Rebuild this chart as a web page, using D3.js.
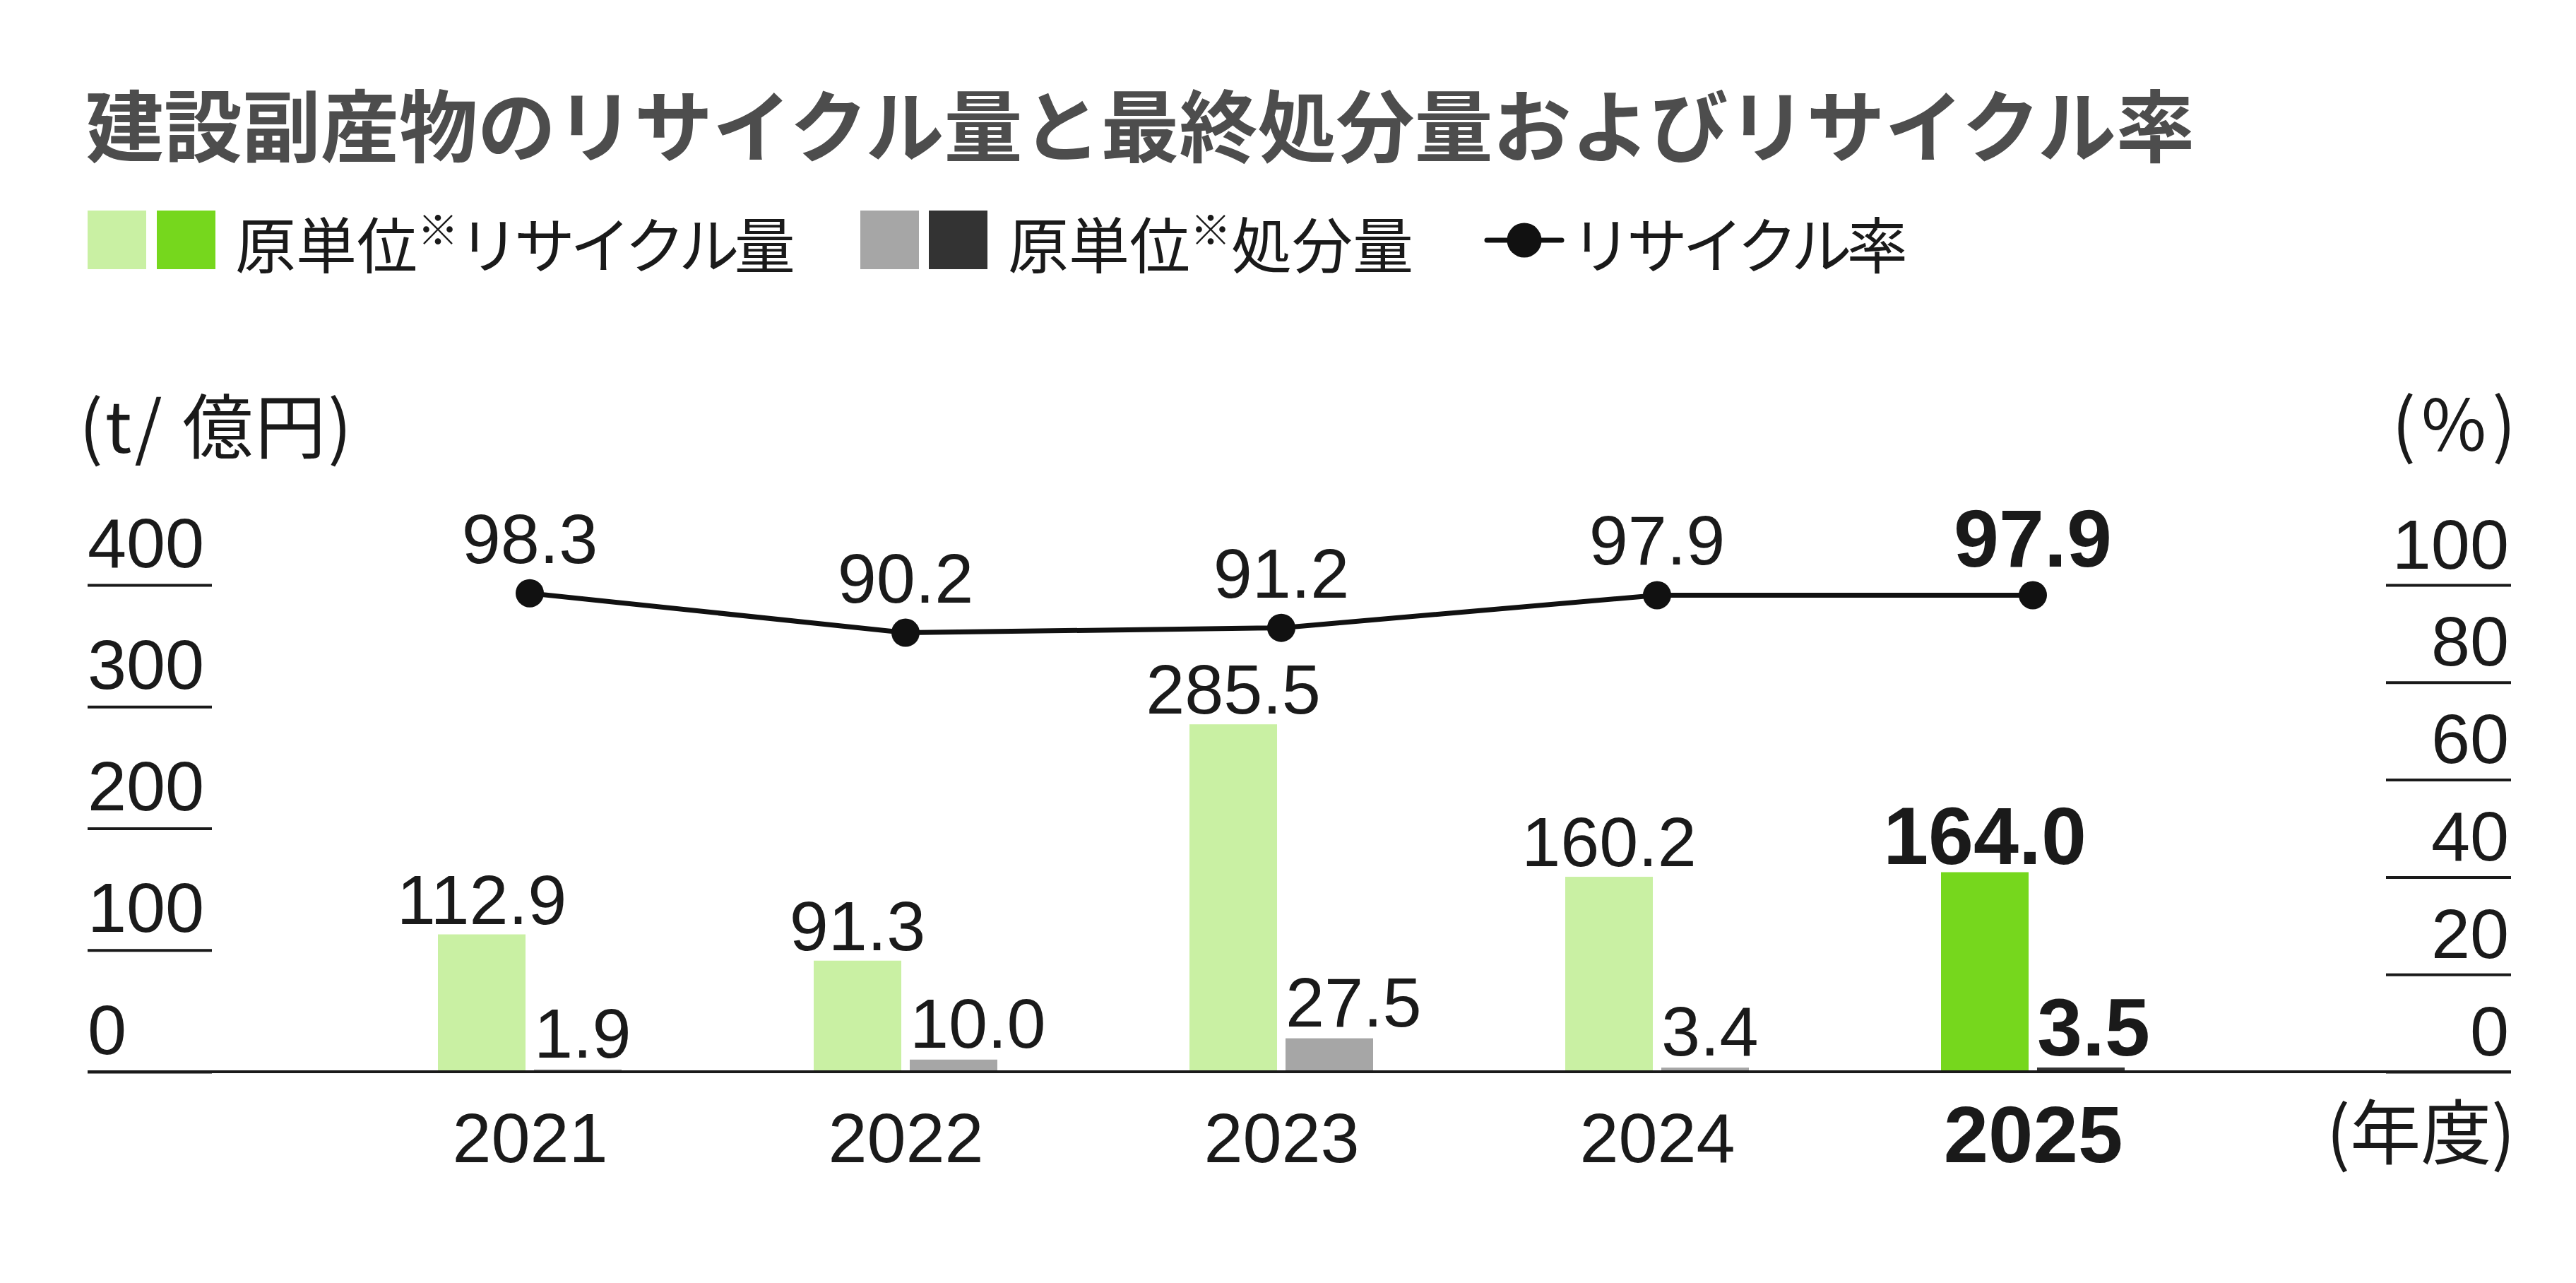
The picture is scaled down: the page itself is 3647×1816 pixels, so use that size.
<!DOCTYPE html>
<html>
<head>
    <meta charset="utf-8">
    <title>建設副産物のリサイクル量と最終処分量およびリサイクル率</title>
    <script src="https://d3js.org/d3.v7.min.js"></script>
    <style>
        body { margin: 0; background: #fff; }
        text { fill: #1a1a1a; }
    </style>
</head>

<body>
<div id="chart"></div>
<script type="text/javascript">

    // data
    let years = ["2021", "2022", "2023", "2024", "2025"];
    let recycleAmount = [112.9, 91.3, 285.5, 160.2, 164.0];
    let disposalAmount = [1.9, 10.0, 27.5, 3.4, 3.5];
    let recycleRate = [98.3, 90.2, 91.2, 97.9, 97.9];
    let leftTicks = [0, 100, 200, 300, 400];
    let rightTicks = [0, 20, 40, 60, 80, 100];
    let highlightYear = "2025";

    let W = 3647, H = 1816;
    let numFont = "'Liberation Sans', Arial, sans-serif";
    let jpFont = "'Noto Sans CJK JP', sans-serif";
    let colors = {
        recycle: "#c9f0a3", recycleHi: "#76d71d",
        disposal: "#a6a6a6", disposalHi: "#333333"
    };

    let svg = d3.select("#chart")
        .append("svg")
        .attr("width", W)
        .attr("height", H);

    svg.append("rect").attr("width", W).attr("height", H).attr("fill", "#fff");

    let xCenter = d3.scalePoint().domain(years).range([750, 2878]);
    let xSub = d3.scaleBand().domain(["recycle", "disposal"]).range([-130, 130]).paddingInner(0.088);
    let yLeft = d3.scaleLinear().domain([0, 400]).range([1517, 828]);
    let yRight = d3.scaleLinear().domain([0, 100]).range([1517, 828]);

    // title
    svg.append("text")
        .attr("x", 121).attr("y", 172)
        .attr("dominant-baseline", "central")
        .attr("font-family", jpFont).attr("font-weight", 700)
        .attr("font-size", 111)
        .style("fill", "#4d4d4d")
        .text("建設副産物のリサイクル量と最終処分量およびリサイクル率");

    // legend
    let legend = svg.append("g").attr("font-family", jpFont).attr("font-size", 86);
    [[124, colors.recycle], [222, colors.recycleHi], [1218, colors.disposal], [1315, colors.disposalHi]]
        .forEach(function(s) {
            legend.append("rect").attr("x", s[0]).attr("y", 298)
                .attr("width", 83).attr("height", 83).attr("fill", s[1]);
        });

    function legendText(x, head, tail, squeeze) {
        let t = legend.append("text").attr("x", x).attr("y", 342).attr("dominant-baseline", "central");
        t.append("tspan").text(head);
        if (tail.mark) {
            t.append("tspan").attr("font-size", 58).attr("dy", -20).text("※");
            t.append("tspan").attr("dy", 20).attr("letter-spacing", squeeze).text(tail.rest);
        } else {
            t.append("tspan").attr("letter-spacing", squeeze).text(tail.rest);
        }
    }
    legendText(333, "原単位", {mark: true, rest: "リサイクル量"}, -7);
    legendText(1427, "原単位", {mark: true, rest: "処分量"}, 0);

    legend.append("line").attr("x1", 2105).attr("x2", 2211).attr("y1", 340).attr("y2", 340)
        .attr("stroke", "#111").attr("stroke-width", 7).attr("stroke-linecap", "round");
    legend.append("circle").attr("cx", 2158).attr("cy", 340).attr("r", 24.5).attr("fill", "#111");
    legendText(2224, "", {mark: false, rest: "リサイクル率"}, -7);

    // unit labels
    let units = svg.append("g").attr("font-family", jpFont).attr("font-size", 100);
    units.append("text").attr("x", 112).attr("y", 641).attr("letter-spacing", 3).text("(t/ 億円)");
    units.append("text").attr("x", 3570).attr("y", 638).attr("text-anchor", "end")
        .attr("letter-spacing", 8).text("(%)");
    units.append("text").attr("x", 3561).attr("y", 1640).attr("text-anchor", "end").text("(年度)");

    // left axis: underlined tick labels
    let leftAxis = svg.append("g")
        .attr("transform", "translate(124,0)")
        .call(d3.axisLeft(yLeft).tickValues(leftTicks).tickSize(-176));
    leftAxis.select(".domain").remove();
    leftAxis.selectAll(".tick line").attr("stroke", "#1a1a1a").attr("stroke-width", 4);
    leftAxis.selectAll(".tick text")
        .attr("x", 0).attr("dy", -26)
        .attr("text-anchor", "start")
        .attr("dominant-baseline", "alphabetic")
        .attr("font-family", numFont).attr("font-size", 99)
        .style("fill", "#1a1a1a");

    // right axis
    let rightAxis = svg.append("g")
        .attr("transform", "translate(3555,0)")
        .call(d3.axisRight(yRight).tickValues(rightTicks).tickSize(-177));
    rightAxis.select(".domain").remove();
    rightAxis.selectAll(".tick line").attr("stroke", "#1a1a1a").attr("stroke-width", 4);
    rightAxis.selectAll(".tick text")
        .attr("x", -3).attr("dy", -24)
        .attr("text-anchor", "end")
        .attr("dominant-baseline", "alphabetic")
        .attr("font-family", numFont).attr("font-size", 99)
        .style("fill", "#1a1a1a");

    // bars
    let rows = years.map(function(y, i) {
        return {year: y, recycle: recycleAmount[i], disposal: disposalAmount[i], rate: recycleRate[i]};
    });

    function isHi(d) { return d.year === highlightYear; }

    let groups = svg.selectAll(".group")
        .data(rows)
        .enter()
        .append("g")
        .attr("class", "group")
        .attr("transform", function(d) { return "translate(" + xCenter(d.year) + ",0)"; });

    groups.append("rect")
        .attr("x", xSub("recycle"))
        .attr("width", xSub.bandwidth())
        .attr("y", function(d) { return yLeft(d.recycle); })
        .attr("height", function(d) { return yLeft(0) - yLeft(d.recycle); })
        .attr("fill", function(d) { return isHi(d) ? colors.recycleHi : colors.recycle; });

    groups.append("rect")
        .attr("x", xSub("disposal"))
        .attr("width", xSub.bandwidth())
        .attr("y", function(d) { return yLeft(d.disposal); })
        .attr("height", function(d) { return yLeft(0) - yLeft(d.disposal); })
        .attr("fill", function(d) { return isHi(d) ? colors.disposalHi : colors.disposal; });

    groups.append("text")
        .attr("x", xSub("recycle") + xSub.bandwidth() / 2)
        .attr("y", function(d) { return yLeft(d.recycle) - (isHi(d) ? 12 : 15); })
        .attr("text-anchor", "middle")
        .attr("font-family", numFont)
        .attr("font-size", function(d) { return isHi(d) ? 115 : 99; })
        .attr("font-weight", function(d) { return isHi(d) ? 700 : 400; })
        .text(function(d) { return d.recycle.toFixed(1); });

    groups.append("text")
        .attr("x", xSub("disposal"))
        .attr("y", function(d) { return yLeft(d.disposal) - 17; })
        .attr("text-anchor", "start")
        .attr("font-family", numFont)
        .attr("font-size", function(d) { return isHi(d) ? 115 : 99; })
        .attr("font-weight", function(d) { return isHi(d) ? 700 : 400; })
        .text(function(d) { return d.disposal.toFixed(1); });

    // baseline
    svg.append("line")
        .attr("x1", 124).attr("x2", 3555)
        .attr("y1", yLeft(0)).attr("y2", yLeft(0))
        .attr("stroke", "#1a1a1a").attr("stroke-width", 4);

    // year axis
    let xAxis = svg.append("g")
        .attr("transform", "translate(0," + yLeft(0) + ")")
        .call(d3.axisBottom(xCenter).tickSize(0));
    xAxis.select(".domain").remove();
    xAxis.selectAll(".tick text")
        .attr("y", 128).attr("dy", null)
        .attr("dominant-baseline", "alphabetic")
        .attr("font-family", numFont)
        .attr("font-size", function(d) { return d === highlightYear ? 114 : 99; })
        .attr("font-weight", function(d) { return d === highlightYear ? 700 : 400; })
        .style("fill", "#1a1a1a");

    // recycle rate line
    let line = d3.line()
        .x(function(d) { return xCenter(d.year); })
        .y(function(d) { return yRight(d.rate); });

    svg.append("path")
        .datum(rows)
        .attr("d", line)
        .attr("fill", "none")
        .attr("stroke", "#111")
        .attr("stroke-width", 7);

    svg.selectAll(".dot")
        .data(rows)
        .enter()
        .append("circle")
        .attr("class", "dot")
        .attr("cx", function(d) { return xCenter(d.year); })
        .attr("cy", function(d) { return yRight(d.rate); })
        .attr("r", 20)
        .attr("fill", "#111");

    svg.selectAll(".rate-label")
        .data(rows)
        .enter()
        .append("text")
        .attr("class", "rate-label")
        .attr("x", function(d) { return xCenter(d.year); })
        .attr("y", function(d) { return yRight(d.rate) - (isHi(d) ? 40 : 43); })
        .attr("text-anchor", "middle")
        .attr("font-family", numFont)
        .attr("font-size", function(d) { return isHi(d) ? 115 : 99; })
        .attr("font-weight", function(d) { return isHi(d) ? 700 : 400; })
        .text(function(d) { return d.rate.toFixed(1); });

</script>
</body>
</html>
